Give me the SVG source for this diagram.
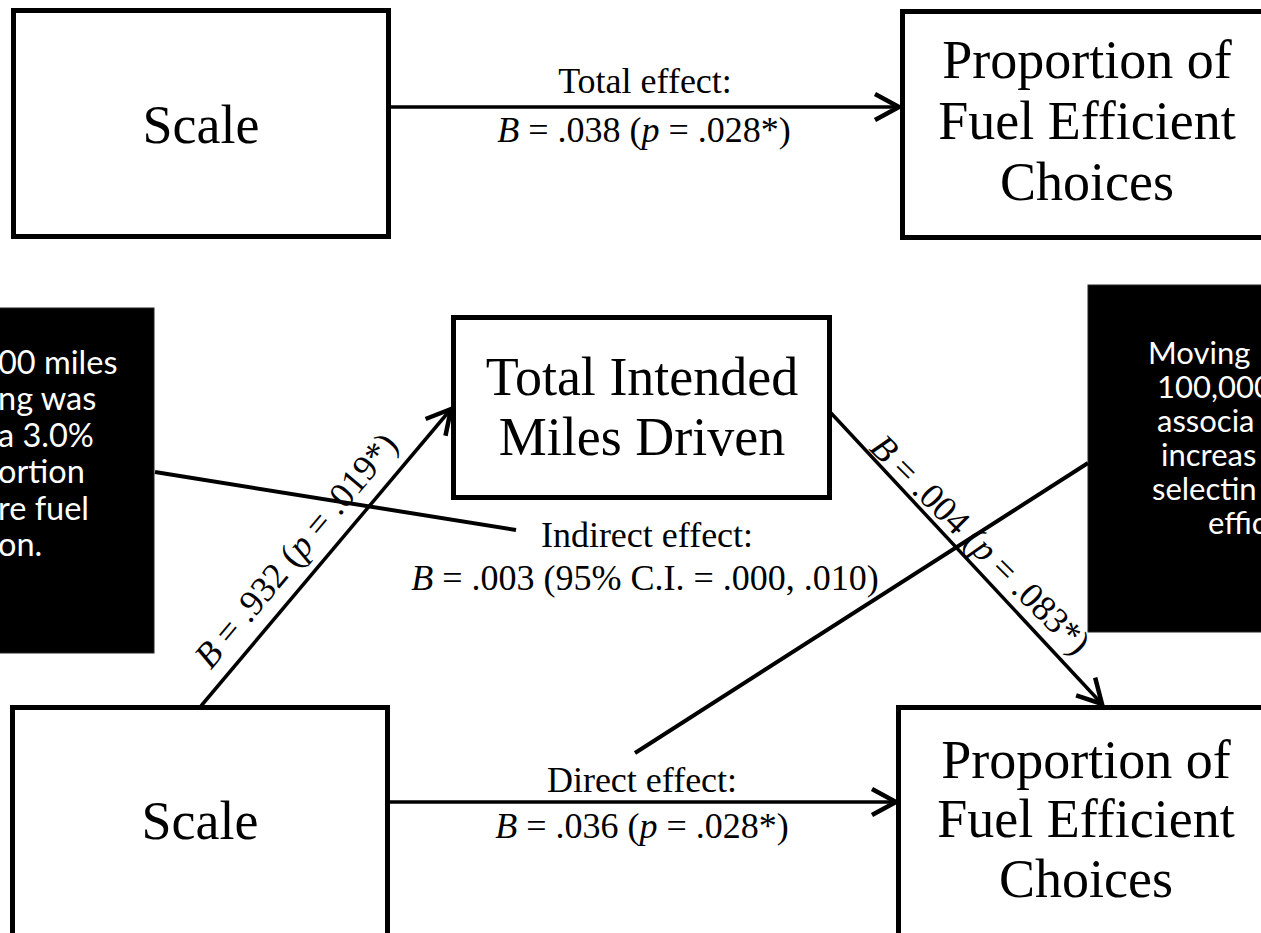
<svg xmlns="http://www.w3.org/2000/svg" width="1261" height="933" viewBox="0 0 1261 933">
<style>
.box{fill:#fff;stroke:#000;stroke-width:5}
.node{font-family:"Liberation Serif","Times New Roman",serif;font-size:54px;fill:#000;text-anchor:middle}
.lbl{font-family:"Liberation Serif","Times New Roman",serif;font-size:36px;fill:#000;text-anchor:middle}
.edge{stroke:#000;stroke-width:3.5;fill:none}
.call{fill:#000;stroke:#222;stroke-width:1}
.ct{font-family:Lato,"Open Sans",sans-serif;font-size:32.5px;fill:#fff}
.cr{font-family:Lato,"Open Sans",sans-serif;font-size:31px;fill:#fff}
.cl{stroke:#000;stroke-width:4;fill:none}
</style>
<defs>
<marker id="arr" markerUnits="userSpaceOnUse" markerWidth="30" markerHeight="30" refX="26" refY="15" orient="auto" overflow="visible">
<path d="M2,2 L26,15 L2,28" fill="none" stroke="#000" stroke-width="4.5" stroke-linejoin="miter"/>
</marker>
</defs>
<rect width="1261" height="933" fill="#fff"/>

<g id="callout-left">
<rect class="call" x="-10" y="308" width="164" height="345"/>
<text class="ct" x="-2" y="374">00 miles</text>
<text class="ct" x="-2" y="410">ng was</text>
<text class="ct" x="-2" y="447">a 3.0%</text>
<text class="ct" x="-2" y="483">ortion</text>
<text class="ct" x="-2" y="520">re fuel</text>
<text class="ct" x="-2" y="556">on.</text>
</g>

<g id="callout-right">
<rect class="call" x="1088" y="285" width="190" height="347"/>
<text class="cr" x="1148" y="364">Moving</text>
<text class="cr" x="1157" y="398">100,000</text>
<text class="cr" x="1157" y="432">associa</text>
<text class="cr" x="1161" y="466">increas</text>
<text class="cr" x="1152" y="500">selectin</text>
<text class="cr" x="1208" y="534">effic</text>
</g>

<g id="scale-top">
<rect class="box" x="13.5" y="10.5" width="375" height="226"/>
<text class="node" x="201" y="143">Scale</text>
</g>
<g id="prop-top">
<rect class="box" x="902.5" y="11.5" width="400" height="226"/>
<text class="node" x="1087" y="78">Proportion of</text>
<text class="node" x="1087" y="139">Fuel Efficient</text>
<text class="node" x="1087" y="200">Choices</text>
</g>
<g id="miles">
<rect class="box" x="453.5" y="317.5" width="376" height="180"/>
<text class="node" x="642" y="395">Total Intended</text>
<text class="node" x="642" y="455">Miles Driven</text>
</g>
<g id="scale-bottom">
<rect class="box" x="12.5" y="707.5" width="375" height="260"/>
<text class="node" x="200" y="839">Scale</text>
</g>
<g id="prop-bottom">
<rect class="box" x="898.5" y="707.5" width="400" height="260"/>
<text class="node" x="1086" y="778">Proportion of</text>
<text class="node" x="1086" y="837">Fuel Efficient</text>
<text class="node" x="1086" y="897">Choices</text>
</g>

<g id="connectors">
<line class="edge" x1="391" y1="107" x2="899" y2="107" marker-end="url(#arr)"/>
<line class="edge" x1="201" y1="706" x2="451" y2="409" marker-end="url(#arr)"/>
<line class="edge" x1="831" y1="413" x2="1102" y2="704" marker-end="url(#arr)"/>
<line class="edge" x1="390" y1="802" x2="896" y2="802" marker-end="url(#arr)"/>
<line class="cl" x1="155" y1="472" x2="516" y2="530"/>
<line class="cl" x1="635" y1="753" x2="1088" y2="463"/>
</g>

<g id="labels">
<text class="lbl" x="645" y="93">Total effect:</text>
<text class="lbl" x="644" y="142"><tspan font-style="italic">B</tspan> = .038 (<tspan font-style="italic">p</tspan> = .028*)</text>
<text class="lbl" x="647" y="547">Indirect effect:</text>
<text class="lbl" x="645" y="590"><tspan font-style="italic">B</tspan> = .003 (95% C.I. = .000, .010)</text>
<text class="lbl" x="642" y="792">Direct effect:</text>
<text class="lbl" x="642" y="838"><tspan font-style="italic">B</tspan> = .036 (<tspan font-style="italic">p</tspan> = .028*)</text>
<text class="lbl" transform="translate(305,558) rotate(-50)"><tspan font-style="italic">B</tspan> = .932 (<tspan font-style="italic">p</tspan> = .019*)</text>
<text class="lbl" transform="translate(972,553) rotate(45)"><tspan font-style="italic">B</tspan> = .004 (<tspan font-style="italic">p</tspan> = .083*)</text>
</g>
</svg>
